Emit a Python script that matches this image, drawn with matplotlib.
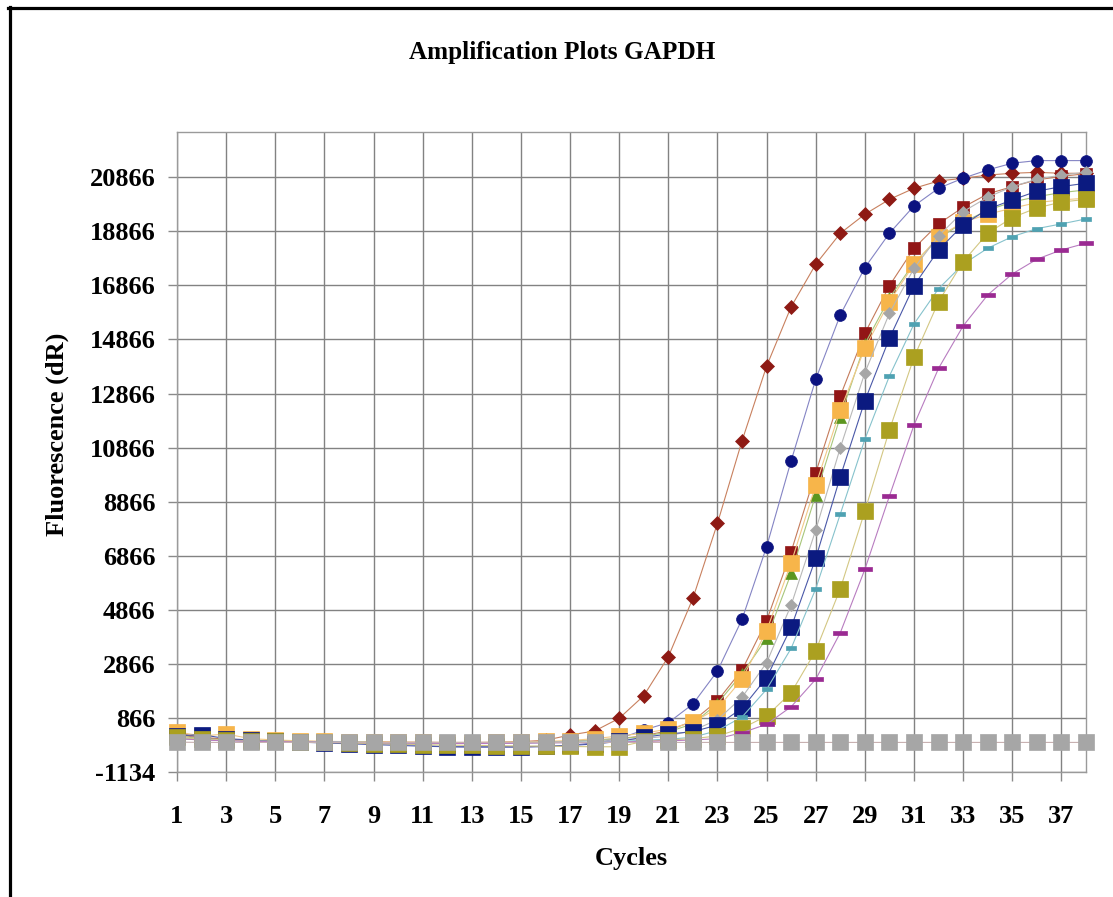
import numpy as np
import matplotlib.pyplot as plt
from matplotlib.lines import Line2D

# ---- qPCR amplification curves, GAPDH, dR per cycle ----
cycles = list(range(1, 39))

s_diamond_red = [250, 120, 60, 30, 10, 0, -10, -20, -20, -30, -30, -40, -40, -30, -10, 40,
                 235, 383, 853, 1689, 3132, 5293, 8070, 11120, 13880, 16080, 17650, 18795,
                 19500, 20050, 20460, 20730, 20830, 20950, 21015, 21050, 21015, 21015]
s_circle_navy = [280, 150, 50, 20, 0, -20, -40, -60, -80, -100, -150, -200, -220, -220, -220,
                 -200, -150, -50, 100, 420, 690, 1382, 2603, 4516, 7202, 10384, 13396, 15775,
                 17525, 18798, 19808, 20463, 20833, 21140, 21388, 21484, 21484, 21484]
s_square_red = [300, 150, 80, 40, 20, 0, -10, -20, -30, -40, -50, -60, -60, -50, -40, -20, 0,
                50, 100, 200, 400, 750, 1504, 2640, 4464, 7017, 9940, 12778, 15098, 16859,
                18243, 19142, 19760, 20252, 20522, 20770, 20900, 21000]
s_triangle_green = [200, 100, 50, 20, 0, -10, -20, -30, -40, -50, -60, -70, -70, -60, -50, -30,
                    0, 50, 100, 180, 350, 650, 1400, 2500, 3813, 6218, 9115, 12012, 14700,
                    16400, 17700, 18600, 19200, 19650, 19950, 20150, 20300, 20400]
s_square_orange = [350, 200, 270, 100, 50, 20, 0, -10, -20, -30, -40, -50, -50, -40, -20, 0,
                   30, 100, 200, 298, 457, 705, 1223, 2296, 4094, 6610, 9485, 12260, 14543,
                   16267, 17651, 18672, 19200, 19500, 19723, 19930, 20030, 20093]
s_diamond_gray = [150, 80, 40, 20, 0, -10, -20, -30, -40, -50, -60, -60, -60, -50, -40, -20,
                  0, 30, 60, 100, 200, 400, 800, 1630, 2910, 5045, 7820, 10865, 13640, 15838,
                  17500, 18700, 19597, 20130, 20522, 20796, 20950, 21050]
s_square_navy = [200, 250, 100, 50, 0, -30, -60, -90, -120, -150, -180, -200, -200, -200, -200,
                 -180, -150, -100, 0, 150, 272, 357, 605, 1223, 2355, 4220, 6773, 9792, 12604,
                 14913, 16859, 18180, 19105, 19686, 20030, 20352, 20522, 20648]
s_dash_teal = [100, 60, 30, 10, 0, -10, -20, -30, -40, -50, -60, -70, -70, -70, -60, -50, -40,
               -20, 0, 40, 80, 150, 400, 900, 1926, 3443, 5648, 8412, 11176, 13518, 15442,
               16748, 17651, 18243, 18672, 18968, 19142, 19327]
s_square_olive = [150, 80, 40, 10, 0, -20, -40, -60, -80, -100, -120, -140, -150, -160, -170,
                  -180, -190, -200, -200, 0, 50, 100, 200, 483, 938, 1800, 3354, 5648, 8523,
                  11520, 14210, 16267, 17747, 18798, 19375, 19734, 19950, 20050]
s_dash_purple = [100, 50, 20, 0, -10, -20, -30, -40, -50, -60, -70, -80, -80, -80, -70, -60,
                 -50, -40, -20, 0, 20, 50, 100, 320, 631, 1282, 2296, 4020, 6366, 9078, 11705,
                 13803, 15368, 16515, 17292, 17836, 18180, 18428]
s_ntc = [-30, -40, -40, -40, -40, -40, -40, -40, -40, -40, -40, -40, -40, -40, -40, -40, -40,
         -40, -40, -40, -40, -40, -40, -40, -40, -40, -40, -40, -40, -40, -40, -40, -40, -40,
         -40, -40, -40, -40]

ytick_vals = [-1134, 866, 2866, 4866, 6866, 8866, 10866, 12866, 14866, 16866, 18866, 20866]
xtick_vals = list(range(1, 38, 2))

# flat bar marker for the dash-style series
dash = [(-1, -0.35), (1, -0.35), (1, 0.35), (-1, 0.35), (-1, -0.35)]

# (values, marker, marker size, marker colour, line colour), drawn bottom to top
series = [
    (s_diamond_red,    'D', 7.5,  '#8E1A14', '#C8805E'),
    (s_circle_navy,    'o', 8.5,  '#0B1280', '#8484C4'),
    (s_square_red,     's', 8.0,  '#921616', '#C47A5A'),
    (s_triangle_green, '^', 8.0,  '#5B961F', '#A8C67A'),
    (s_square_orange,  's', 11.5, '#F7B54A', '#F2C987'),
    (s_diamond_gray,   'D', 6.0,  '#A6A6A6', '#B8B8B8'),
    (s_square_navy,    's', 11.5, '#0B1A80', '#4A58A8'),
    (s_dash_teal,      dash, 6.5, '#4FA2B2', '#86C2CC'),
    (s_square_olive,   's', 11.5, '#ABA020', '#D3C783'),
    (s_dash_purple,    dash, 9.5, '#9A2A92', '#B87CC0'),
    (s_ntc,            's', 12.0, '#A6A6A6', '#C8B0B0'),
]

plt.rcParams['font.family'] = ['Liberation Serif', 'DejaVu Serif']
plt.rcParams['font.weight'] = 'bold'

W, H = 1113, 897
fig = plt.figure(figsize=(W / 100, H / 100), dpi=100)
ax = fig.add_axes([177 / W, 1 - 772 / H, (1086 - 177) / W, (772 - 131.7) / H])

for k, (vals, mk, ms, mc, lc) in enumerate(series):
    ax.plot(cycles, vals, color=lc, lw=0.8, zorder=3 + 2 * k, clip_on=False)
    ax.plot(cycles, vals, ls='none', marker=mk, ms=ms, mfc=mc, mec=mc, mew=0.5,
            zorder=4 + 2 * k, clip_on=False)

ax.set_xlim(1, 38)
ax.set_ylim(-1134, 22553)
ax.set_xticks(xtick_vals)
ax.set_yticks(ytick_vals)
ax.set_xticklabels([str(v) for v in xtick_vals])
ax.set_yticklabels([str(v) for v in ytick_vals])
ax.grid(True, color='#828282', lw=1.0, zorder=1)
for side in ['left', 'bottom', 'right', 'top']:
    ax.spines[side].set_color('#9a9a9a')
    ax.spines[side].set_linewidth(1.0)
ax.tick_params(axis='both', direction='out', length=6.5, width=1.0, color='#8a8a8a',
               labelsize=19)
ax.tick_params(axis='y', pad=9)
ax.tick_params(axis='x', pad=17)
for lab in ax.get_xticklabels() + ax.get_yticklabels():
    lab.set_fontweight('bold')

fig.text(562 / W, 1 - 53 / H, 'Amplification Plots GAPDH', ha='center', va='center',
         fontsize=18.2, fontweight='bold')
fig.text(631.5 / W, 1 - 858 / H, 'Cycles', ha='center', va='center',
         fontsize=19, fontweight='bold')
fig.text(57 / W, 1 - 434.5 / H, 'Fluorescence (dR)', ha='center', va='center',
         rotation=90, fontsize=19, fontweight='bold')

# black chart frame along top and left edges
fig.add_artist(Line2D([8 / W, 1], [1 - 8.5 / H, 1 - 8.5 / H], color='black', lw=2.3,
                      transform=fig.transFigure))
fig.add_artist(Line2D([9.5 / W, 9.5 / W], [0, 1 - 7.5 / H], color='black', lw=2.3,
                      transform=fig.transFigure))

fig.savefig('out.png', dpi=100, facecolor='white')
